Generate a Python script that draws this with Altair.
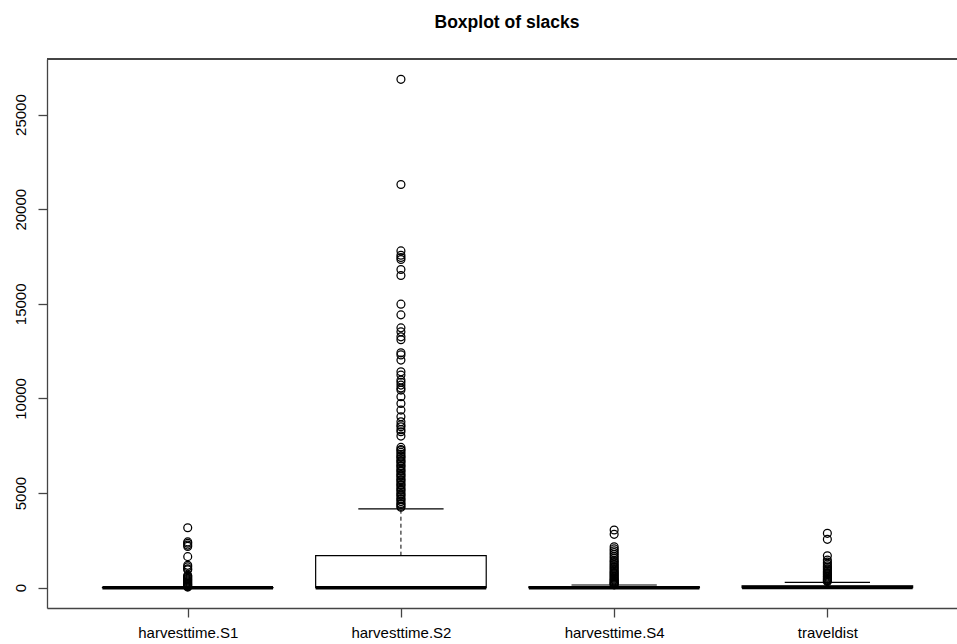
import altair as alt
import pandas as pd

# ---- data ----
names = ["harvesttime.S1", "harvesttime.S2", "harvesttime.S4", "traveldist"]
q1 = [0, 0, 0, 0]
median = [0, 0, 0, 5]
q3 = [10, 1690, 50, 90]
whisker_lo = [0, 0, 0, 0]
whisker_hi = [25, 4160, 142, 285]

out_s1 = [3170, 2420, 2350, 2250, 2180, 1640, 1180, 1100, 1000, 950, 650, 600,
          550, 500, 450, 400, 350, 300, 250, 200, 150, 100, 60, 30]
out_s2 = [26864, 21309, 17797, 17570, 17448, 17342, 16814, 16497, 14982, 14417,
          13730, 13519, 13255, 13100, 12410, 12300, 12025, 11407, 11233, 10969,
          10850, 10705, 10550, 10441, 10087, 9735, 9383, 9030, 8767, 8600, 8502,
          8350, 8238, 8011, 7414, 7300, 7250, 7150, 7050, 6950, 6900, 6800, 6700,
          6650, 6550, 6450, 6400, 6300, 6200, 6150, 6050, 5950, 5900, 5800, 5700,
          5650, 5550, 5450, 5400, 5300, 5200, 5150, 5050, 4950, 4900, 4800, 4700,
          4650, 4550, 4450, 4400, 4300, 4250]
out_s4 = [3047, 2820, 2165, 2050, 1950, 1850, 1750, 1650, 1550, 1450, 1380, 1300,
          1220, 1150, 1080, 1000, 930, 860, 800, 740, 680, 620, 560, 500, 450,
          400, 350, 300, 260, 220, 180, 150]
out_td = [2871, 2555, 1690, 1460, 1350, 1250, 1150, 1080, 1000, 930, 860, 800,
          740, 680, 620, 560, 500, 450, 400, 360, 320]
outliers = [out_s1, out_s2, out_s4, out_td]

y_ticks = [0, 5000, 10000, 15000, 20000, 25000]
title_text = "Boxplot of slacks"

# ---- tables built from the arrays ----
box_rows = []
for i, n in enumerate(names):
    p = i + 1
    box_rows.append(dict(name=n, pos=p, lo=p - 0.4, hi=p + 0.4, clo=p - 0.2, chi=p + 0.2,
                         q1=q1[i], med=median[i], q3=q3[i], wlo=whisker_lo[i], whi=whisker_hi[i]))
box_df = pd.DataFrame(box_rows)
out_df = pd.DataFrame([dict(name=n, pos=i + 1, value=v)
                       for i, (n, vals) in enumerate(zip(names, outliers)) for v in vals])

FONT = "Liberation Sans"
LINE = "#444444"
W, H = 910, 549

xscale = alt.Scale(domain=[0.34, 4.608], nice=False, zero=False)
yscale = alt.Scale(domain=[-1074, 27938], nice=False, zero=False)
label_expr = "[" + ",".join("'%s'" % n for n in names) + "][datum.value - 1]"
xaxis = alt.Axis(values=[1, 2, 3, 4], labelExpr=label_expr, title=None, grid=False,
                 tickSize=9, labelPadding=20, labelBaseline="alphabetic", labelAlign="center",
                 labelFontSize=15, labelFont=FONT, labelColor="black", domainColor=LINE,
                 tickColor=LINE, labelFlush=False, labelOverlap=False, domainWidth=1.3, tickWidth=1.3)
yaxis = alt.Axis(values=y_ticks, title=None, grid=False, tickSize=9, labelPadding=12.5,
                 labelAngle=270, labelAlign="center", labelBaseline="alphabetic",
                 labelFontSize=15, labelFont=FONT, labelColor="black", domainColor=LINE,
                 tickColor=LINE, labelFlush=False, labelOverlap=False, format="d",
                 domainWidth=1.3, tickWidth=1.3)


def X(field):
    return alt.X(field, type="quantitative", scale=xscale, axis=xaxis)


def Y(field):
    return alt.Y(field, type="quantitative", scale=yscale, axis=yaxis)


base = alt.Chart(box_df)

whisk_up = base.mark_rule(color="black", strokeWidth=1, strokeDash=[4, 3]).encode(
    x=X("pos"), y=Y("q3"), y2="whi")
whisk_dn = base.mark_rule(color="black", strokeWidth=1, strokeDash=[4, 3]).encode(
    x=X("pos"), y=Y("wlo"), y2="q1")
box = base.mark_rect(fill="white", stroke="black", strokeWidth=1.2).encode(
    x=X("lo"), x2="hi", y=Y("q1"), y2="q3")
med = base.mark_rule(color="black", strokeWidth=3.5).encode(
    x=X("lo"), x2="hi", y=Y("med"))
cap_hi = base.mark_rule(color="black", strokeWidth=1.2).encode(
    x=X("clo"), x2="chi", y=Y("whi"))
cap_lo = base.mark_rule(color="black", strokeWidth=1.2).encode(
    x=X("clo"), x2="chi", y=Y("wlo"))
pts = alt.Chart(out_df).mark_point(shape="circle", filled=False, color="black", size=62,
                                    strokeWidth=1.25, opacity=1).encode(x=X("pos"), y=Y("value"))
top_border = base.mark_rule(color=LINE, strokeWidth=1.3).encode(
    x=alt.value(0), x2=alt.value(W), y=alt.value(0))

chart = alt.layer(whisk_up, whisk_dn, box, med, cap_hi, cap_lo, pts, top_border).properties(
    width=W, height=H,
    title=alt.TitleParams(title_text, font=FONT, fontSize=17.5, fontWeight="bold",
                          anchor="middle", dx=5, offset=13, baseline="alphabetic", color="black"),
    padding={"left": 47, "top": 59, "right": 0, "bottom": 36},
    autosize=alt.AutoSizeParams(type="none"),
).configure_view(stroke=None).configure(background="white")

chart.save("out.html", embed_options={"renderer": "svg", "actions": False})
